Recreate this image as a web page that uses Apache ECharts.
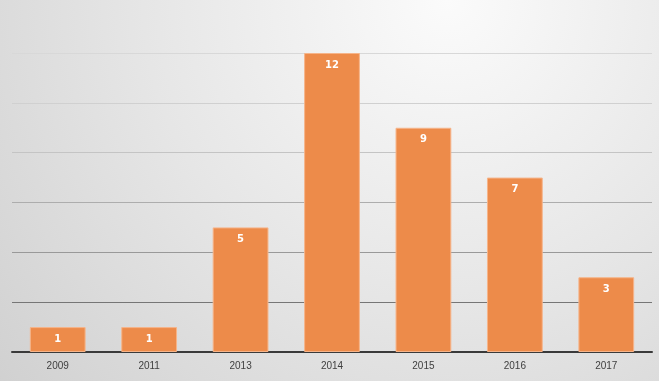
<!DOCTYPE html>
<html><head><meta charset="utf-8">
<script src="https://cdn.jsdelivr.net/npm/echarts@6/dist/echarts.min.js"></script>
<style>html,body{margin:0;padding:0;background:#fff}#c{width:659px;height:381px}</style>
</head><body><div id="c"></div>
<script>
const categories = ['2009','2011','2013','2014','2015','2016','2017'];
const values = [1,1,5,12,9,7,3];

const chart = echarts.init(document.getElementById('c'), null, {renderer:'canvas'});
chart.setOption({
  animation:false,
  backgroundColor:{type:'radial',x:0.68,y:0.0,r:1.6,colorStops:[
    {offset:0,color:'#fbfbfb'},{offset:0.5,color:'#e6e6e6'},{offset:1,color:'#cfcfcf'}]},
  grid:{left:12,right:7,top:53,bottom:29,containLabel:false},
  xAxis:{type:'category',data:categories,
    axisLine:{lineStyle:{color:'#3a3a3a',width:2}},
    axisTick:{show:false},
    axisLabel:{color:'#404040',fontSize:10,fontFamily:'Liberation Sans, Arial, sans-serif',margin:9}},
  yAxis:{type:'value',min:0,max:12,interval:2,
    axisLabel:{show:false},axisLine:{show:false},axisTick:{show:false},
    splitLine:{lineStyle:{width:1,color:['#6a6a6a','#767676','#999999','#adadad','#c4c4c4','#d0d0d0','#d8d8d8']}}},
  series:[{type:'bar',data:values,barWidth:'61%',
    itemStyle:{color:'#ed8b4a',borderColor:'#f6b489',borderWidth:1},
    label:{show:true,position:'insideTop',distance:7,color:'#ffffff',fontWeight:'bold',fontSize:10,
      fontFamily:'DejaVu Sans, sans-serif'}}]
});
</script></body></html>
